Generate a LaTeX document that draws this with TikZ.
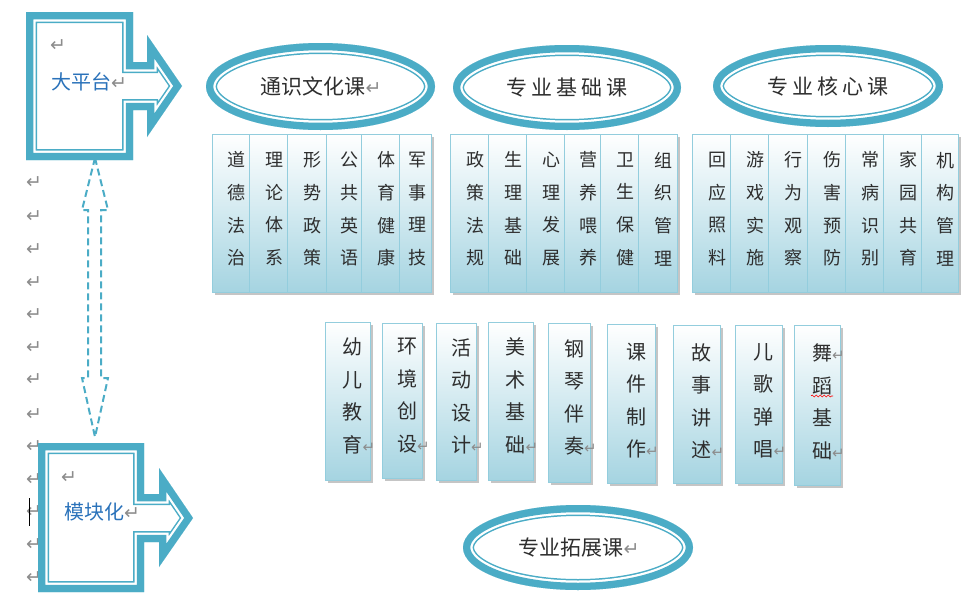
\documentclass[tikz,border=0pt]{standalone}
\usepackage{fontspec}
\setmainfont{Noto Sans CJK SC}
\newfontfamily\retfont{DejaVu Sans}
\usetikzlibrary{calc,shadows,decorations.pathmorphing}

\definecolor{ringteal}{HTML}{4BACC6}
\definecolor{colline}{HTML}{93CDDD}
\definecolor{colfill}{HTML}{A5D4E1}
\definecolor{platblue}{HTML}{2A72BA}
\definecolor{retgray}{HTML}{8C8C8C}
\definecolor{inkgray}{HTML}{2E2E2E}

\newcommand{\retmark}{{\retfont\fontsize{19pt}{19pt}\selectfont\textcolor{retgray}{↵}}}
\newcommand{\smallret}{{\retfont\fontsize{15pt}{15pt}\selectfont\textcolor{retgray}{↵}}}
\newcommand{\gap}{\hspace{4pt}}
% thick-thin teal frame drawn inside a closed path
\newcommand{\ringed}[1]{%
  \begin{scope}
    \clip #1;
    \draw [ringteal, line width=22pt] #1;
    \draw [white, line width=19pt] #1;
    \draw [ringteal, line width=14.5pt] #1;
  \end{scope}}

\tikzset{
  col/.style={draw=colline, line width=0.8pt, top color=white, bottom color=colfill,
    minimum height=158pt, inner sep=0pt,
    drop shadow={shadow xshift=2.5pt, shadow yshift=-2.5pt, fill=black!45, opacity=0.5}},
  coltext/.style={font=\fontsize{18pt}{32.7pt}\selectfont, align=center, text=inkgray,
    inner sep=0pt, xshift=6pt, yshift=4pt},
  lowtext/.style={font=\fontsize{20pt}{32.5pt}\selectfont, align=center, text=inkgray,
    inner sep=0pt, xshift=5pt, yshift=5pt},
  ovaltext/.style={font=\fontsize{21pt}{25pt}\selectfont, text=inkgray, inner sep=0pt},
  armtext/.style={font=\fontsize{20pt}{24pt}\selectfont, text=platblue, inner sep=0pt},
  retnode/.style={inner sep=0pt},
}

\begin{document}
\begin{tikzpicture}[x=1pt, y=-1pt]
\useasboundingbox (0,0) rectangle (977,608);

% paragraph marks down the left margin
\foreach \i/\y in {1/183, 2/217, 3/250, 4/283, 5/315, 6/348, 7/380, 8/415, 9/447, 10/480, 11/512, 12/545, 13/578}
  \node [retnode] (r\i) at (34,\y) {\retmark};
\draw [black, line width=1pt] (29,498) -- (29,526);

% block arrows
\ringed{(26,12) -- (133,12) -- (133,62) -- (147,62) -- (147,35) -- (182,86) -- (147,137) -- (147,110) -- (133,110) -- (133,160) -- (26,160) -- cycle}
\node [retnode] (platret) at (58,46) {\retmark};
\node [armtext] (plat) at (89,82) {大平台\retmark};

\ringed{(38,443) -- (144,443) -- (144,494) -- (159,494) -- (159,468) -- (193,518) -- (159,567) -- (159,542) -- (144,542) -- (144,592) -- (38,592) -- cycle}
\node [retnode] (moduret) at (69,478) {\retmark};
\node [armtext] (modu) at (102,512) {模块化\retmark};

\coordinate (up) at (95,158);
\coordinate (dn) at (95,437);
\draw [ringteal, line width=2pt, dash pattern=on 7pt off 4pt] (up) -- ++(13,52) -- ++(-7,0) -- ++(0,168) -- ++(7,0) -- (dn)
  -- ++(-13,-59) -- ++(6,0) -- ++(0,-168) -- ++(-6,0) -- cycle;

% course groups
\node [ovaltext] (gen) at (321,86.5) {通识文化课\retmark};
\ringed{(320.5,86.5) ellipse [x radius=114.5, y radius=43.5]}
\node [ovaltext] (base) at (567,87.5) {专\gap{}业\gap{}基\gap{}础\gap{}课};
\ringed{(base.center) ellipse [x radius=114, y radius=42.5]}
\node [ovaltext] (core) at (828,86) {专\gap{}业\gap{}核\gap{}心\gap{}课};
\ringed{(core.center) ellipse [x radius=115, y radius=41]}
\node [ovaltext] (ext) at (579,547.5) {专业拓展课\retmark};
\ringed{(578,547.5) ellipse [x radius=115, y radius=42.5]}

\node [col, minimum width=37pt, label={[coltext]center:道\\德\\法\\治}] (gen1) at (230.5,213) {};
\node [col, minimum width=38pt, label={[coltext]center:理\\论\\体\\系}] (gen2) at (268,213) {};
\node [col, minimum width=39pt, label={[coltext]center:形\\势\\政\\策}] (gen3) at (306.5,213) {};
\node [col, minimum width=35pt, label={[coltext]center:公\\共\\英\\语}] (gen4) at (343.5,213) {};
\node [col, minimum width=38pt, label={[coltext]center:体\\育\\健\\康}] (gen5) at (380,213) {};
\node [col, minimum width=32pt, label={[coltext, xshift=-4pt]center:军\\事\\理\\技}] (gen6) at (415,213) {};

\node [col, minimum width=38pt, label={[coltext]center:政\\策\\法\\规}] (base1) at (469,213) {};
\node [col, minimum width=38pt, label={[coltext]center:生\\理\\基\\础}] (base2) at (507,213) {};
\node [col, minimum width=38pt, label={[coltext]center:心\\理\\发\\展}] (base3) at (545,213) {};
\node [col, minimum width=36pt, label={[coltext]center:营\\养\\喂\\养}] (base4) at (582,213) {};
\node [col, minimum width=38pt, label={[coltext]center:卫\\生\\保\\健}] (base5) at (619,213) {};
\node [col, minimum width=39pt, label={[coltext]center:组\\织\\管\\理}] (base6) at (657.5,213) {};

\node [col, minimum width=38pt, label={[coltext]center:回\\应\\照\\料}] (core1) at (711,213) {};
\node [col, minimum width=38pt, label={[coltext]center:游\\戏\\实\\施}] (core2) at (749,213) {};
\node [col, minimum width=39pt, label={[coltext]center:行\\为\\观\\察}] (core3) at (787.5,213) {};
\node [col, minimum width=38pt, label={[coltext]center:伤\\害\\预\\防}] (core4) at (826,213) {};
\node [col, minimum width=38pt, label={[coltext]center:常\\病\\识\\别}] (core5) at (864,213) {};
\node [col, minimum width=38pt, label={[coltext]center:家\\园\\共\\育}] (core6) at (902,213) {};
\node [col, minimum width=37pt, label={[coltext]center:机\\构\\管\\理}] (core7) at (939.5,213) {};

% extension courses
\node [col, minimum width=45pt, label={[lowtext]center:幼\\儿\\教\\育\rlap{\smallret}}] (ext1) at (347.5,401) {};
\node [col, minimum width=40pt, minimum height=155pt, label={[lowtext]center:环\\境\\创\\设\rlap{\smallret}}] (ext2) at (402,400.5) {};
\node [col, minimum width=40pt, minimum height=157pt, label={[lowtext]center:活\\动\\设\\计\rlap{\smallret}}] (ext3) at (456,401.5) {};
\node [col, minimum width=45pt, label={[lowtext]center:美\\术\\基\\础\rlap{\smallret}}] (ext4) at (510.5,401) {};
\node [col, minimum width=42pt, minimum height=159pt, label={[lowtext]center:钢\\琴\\伴\\奏\rlap{\smallret}}] (ext5) at (569,402.5) {};
\node [col, minimum width=48pt, minimum height=159pt, label={[lowtext, yshift=-2pt]center:课\\件\\制\\作\rlap{\smallret}}] (ext6) at (631,403.5) {};
\node [col, minimum width=47pt, label={[lowtext, yshift=-2pt]center:故\\事\\讲\\述\rlap{\smallret}}] (ext7) at (696.5,404) {};
\node [col, minimum width=47pt, label={[lowtext, yshift=-2pt]center:儿\\歌\\弹\\唱\rlap{\smallret}}] (ext8) at (758.5,404) {};
\node [col, minimum width=46pt, minimum height=160pt, label={[lowtext, yshift=-2pt]center:舞\rlap{\smallret}\\蹈\\基\\础\rlap{\smallret}}] (ext9) at (817,405) {};
\draw [red, line width=0.6pt, decorate, decoration={snake, amplitude=1pt, segment length=4pt}] (811,396) -- (833,396);
\end{tikzpicture}
\end{document}
